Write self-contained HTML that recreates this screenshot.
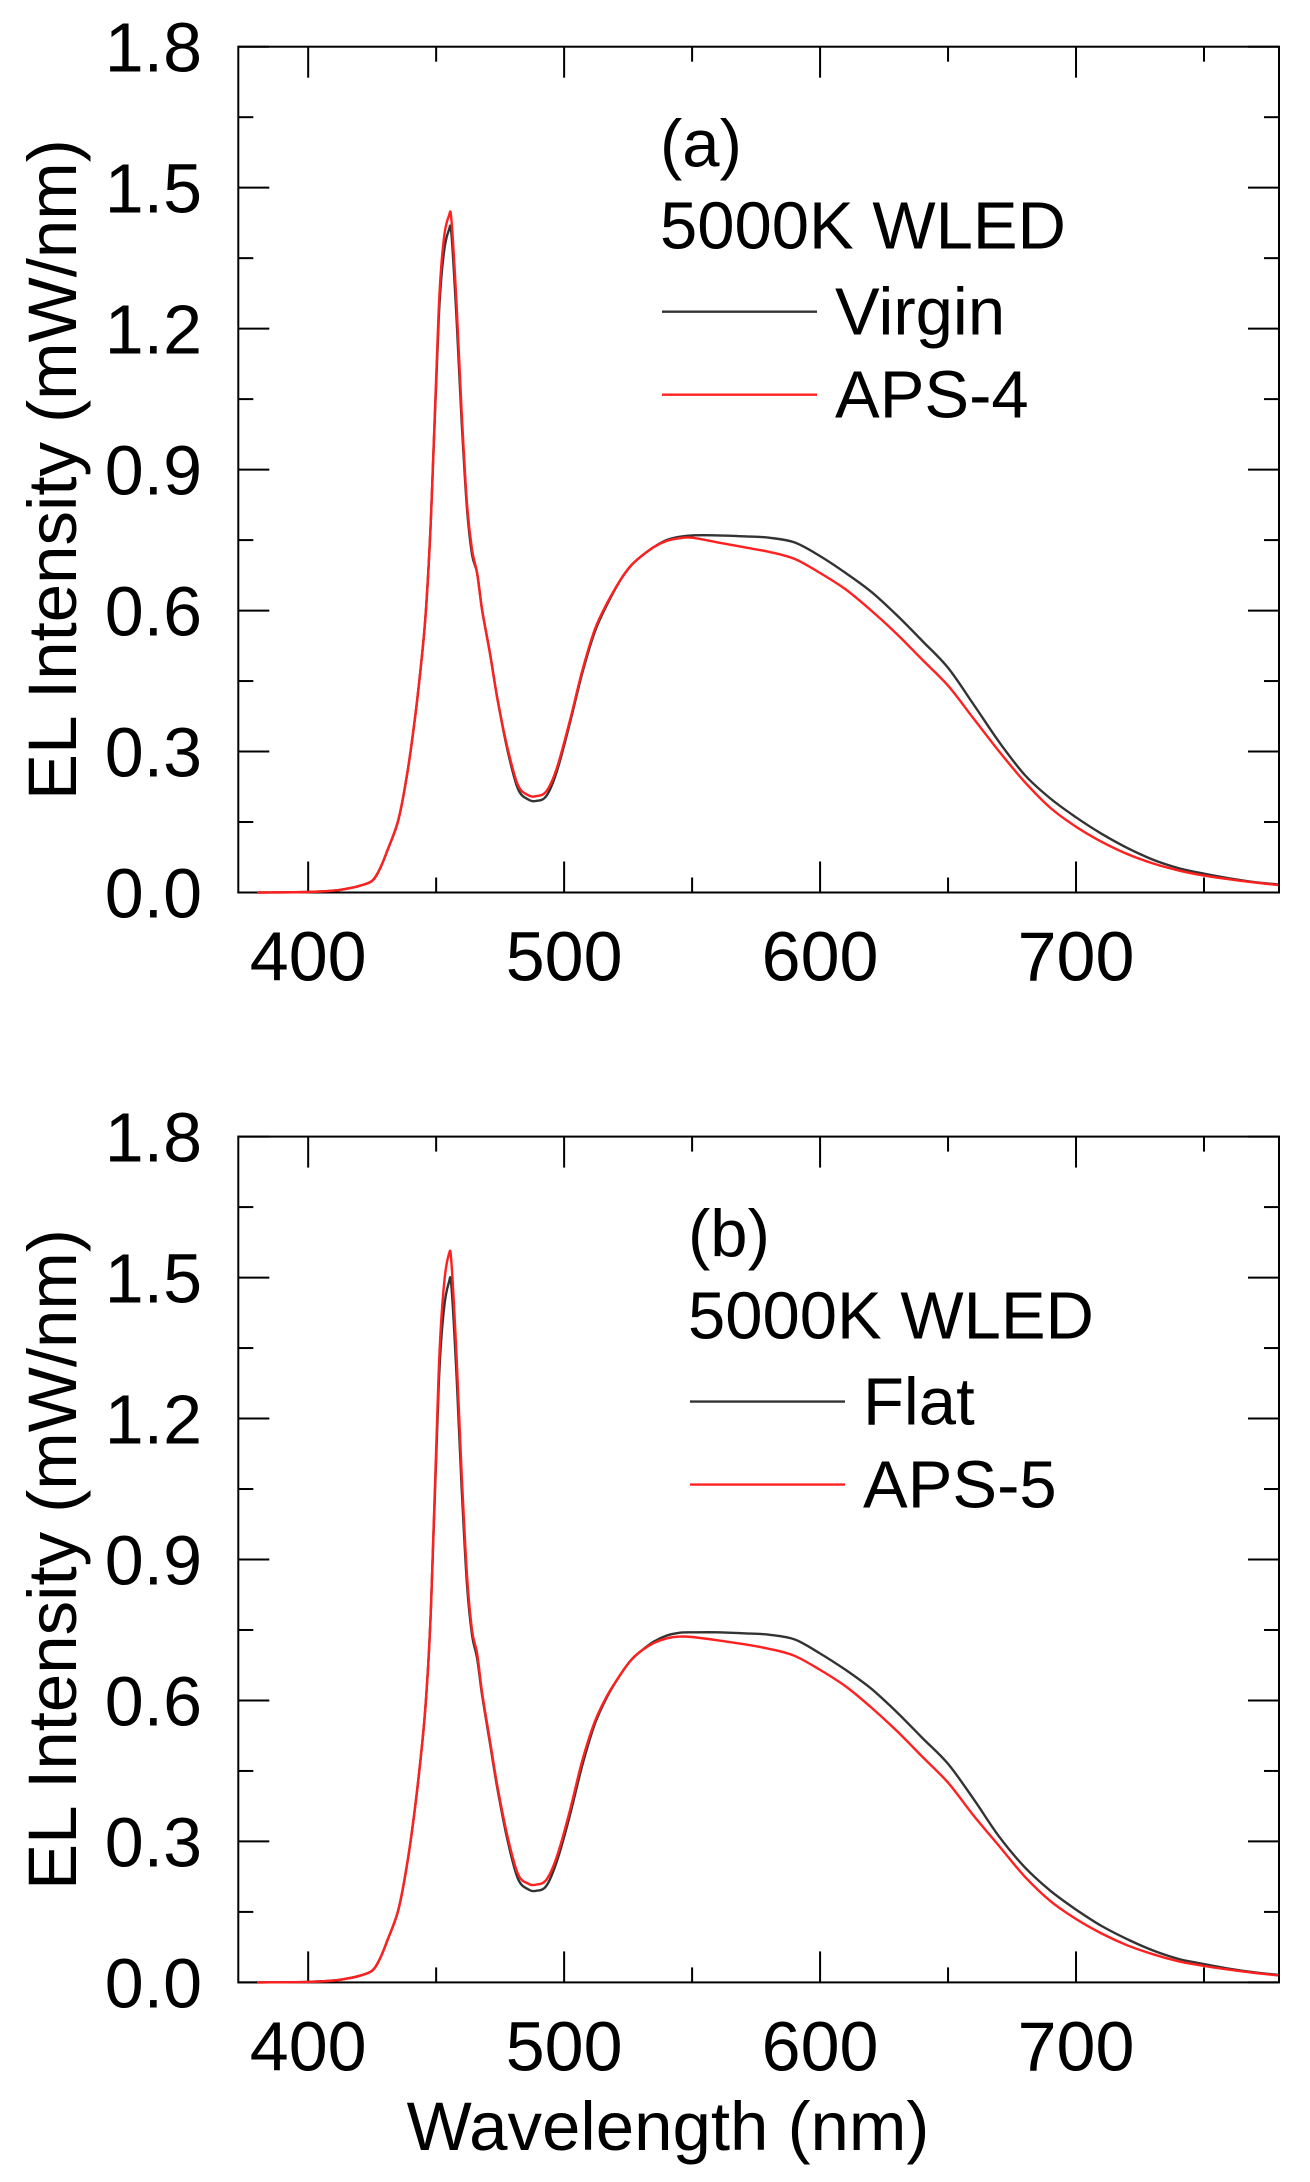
<!DOCTYPE html>
<html><head><meta charset="utf-8">
<style>
html,body{margin:0;padding:0;background:#fff;}
svg{display:block;font-family:"Liberation Sans",Arial,sans-serif;}
</style></head>
<body>
<svg id="chart" width="1310" height="2182" viewBox="0 0 1310 2182" xmlns="http://www.w3.org/2000/svg">
<g id="panelA"></g>
<g id="panelB"></g>
<text x="668" y="2150" font-size="69" text-anchor="middle" fill="#000">Wavelength (nm)</text>
</svg>
<script>
const wavelengths=[380,400,410,415,420,425,428,431,435,438,441,444,446,448,451,453,455,456,458,460,462,464,466,468,471,474,478,482,486,489,493,497,502,507,512,517,522,526,530,535,540,545,550,560,570,580,590,600,610,620,630,640,650,660,670,680,690,700,710,720,730,740,750,760,770,779];
const virginValues=[0,0.001,0.004,0.008,0.014,0.025,0.05,0.09,0.15,0.23,0.34,0.48,0.6,0.8,1.22,1.36,1.41,1.40,1.22,1.0,0.82,0.72,0.68,0.6,0.51,0.41,0.3,0.22,0.198,0.195,0.205,0.255,0.355,0.465,0.555,0.615,0.665,0.695,0.715,0.735,0.75,0.757,0.76,0.76,0.758,0.755,0.745,0.716,0.68,0.64,0.59,0.535,0.478,0.40,0.32,0.25,0.20,0.16,0.125,0.095,0.07,0.052,0.04,0.03,0.022,0.017];
const aps4Values=[0,0.001,0.004,0.008,0.014,0.025,0.05,0.09,0.15,0.23,0.34,0.48,0.6,0.8,1.24,1.39,1.44,1.43,1.25,1.02,0.83,0.73,0.68,0.6,0.51,0.41,0.305,0.228,0.207,0.205,0.215,0.262,0.36,0.47,0.56,0.618,0.665,0.695,0.715,0.735,0.748,0.754,0.755,0.745,0.735,0.725,0.71,0.68,0.645,0.60,0.55,0.495,0.44,0.37,0.30,0.235,0.18,0.14,0.108,0.082,0.062,0.047,0.036,0.028,0.021,0.016];
const flatValues=[0,0.001,0.004,0.008,0.014,0.025,0.05,0.09,0.15,0.23,0.34,0.48,0.6,0.8,1.27,1.43,1.49,1.48,1.29,1.05,0.85,0.74,0.69,0.61,0.51,0.41,0.3,0.22,0.198,0.195,0.205,0.255,0.35,0.46,0.55,0.61,0.655,0.685,0.705,0.725,0.738,0.744,0.745,0.745,0.743,0.74,0.73,0.70,0.665,0.625,0.575,0.52,0.465,0.39,0.31,0.245,0.195,0.155,0.12,0.092,0.068,0.05,0.039,0.029,0.021,0.016];
const aps5Values=[0,0.001,0.004,0.008,0.014,0.025,0.05,0.09,0.15,0.23,0.34,0.48,0.6,0.8,1.3,1.48,1.55,1.53,1.33,1.08,0.87,0.75,0.7,0.615,0.515,0.415,0.308,0.23,0.21,0.208,0.218,0.265,0.36,0.47,0.555,0.612,0.655,0.685,0.705,0.722,0.732,0.736,0.735,0.728,0.72,0.71,0.695,0.665,0.63,0.585,0.535,0.48,0.425,0.355,0.29,0.225,0.173,0.135,0.104,0.079,0.06,0.045,0.035,0.027,0.02,0.015];
const yTickLabels=["0.0","0.3","0.6","0.9","1.2","1.5","1.8"];
const xTickLabels=["400","500","600","700"];

const NS="http://www.w3.org/2000/svg";
const X0=238.3,X1=1279,XMIN=372.7,XMAX=779.3;
const PH=845.8;
function xs(w){return X0+(w-XMIN)/(XMAX-XMIN)*(X1-X0);}
function mk(tag,attrs,parent){const e=document.createElementNS(NS,tag);for(const k in attrs)e.setAttribute(k,attrs[k]);parent.appendChild(e);return e;}
function smoothPath(pts){
  let d='M'+pts[0][0].toFixed(1)+','+pts[0][1].toFixed(1);
  for(let i=0;i<pts.length-1;i++){
    const p0=pts[Math.max(0,i-1)],p1=pts[i],p2=pts[i+1],p3=pts[Math.min(pts.length-1,i+2)];
    const c1x=p1[0]+(p2[0]-p0[0])/6,c1y=p1[1]+(p2[1]-p0[1])/6;
    const c2x=p2[0]-(p3[0]-p1[0])/6,c2y=p2[1]-(p3[1]-p1[1])/6;
    d+=' C'+c1x.toFixed(1)+','+c1y.toFixed(1)+' '+c2x.toFixed(1)+','+c2y.toFixed(1)+' '+p2[0].toFixed(1)+','+p2[1].toFixed(1);
  }
  return d;
}

function panel(g,top,label,name1,vals1,name2,vals2,lx){
  const bot=top+PH;
  const ys=v=>bot-v/1.8*PH;
  const frame=mk('rect',{x:X0,y:top,width:X1-X0,height:PH,fill:'none',stroke:'#000','stroke-width':2},g);
  
  
  for(let i=0;i<=12;i++){
    const v=i*0.15,y=ys(v),L=(i%2===0)?31:15;
    const t1=mk('line',{x1:X0,x2:X0+L,y1:y,y2:y,stroke:'#000','stroke-width':2},g);
    
    
    const t2=mk('line',{x1:X1,x2:X1-L,y1:y,y2:y,stroke:'#000','stroke-width':2},g);
    
    
  }
  yTickLabels.forEach((s,i)=>{
    const t=mk('text',{x:202,y:ys(parseFloat(s))+25,'font-size':70,'text-anchor':'end',fill:'#000'},g);
    t.textContent=s;
    
    
  });
  for(let w=400;w<=750;w+=50){
    const x=xs(w),L=(w%100===0)?31:15;
    const a=mk('line',{x1:x,x2:x,y1:bot,y2:bot-L,stroke:'#000','stroke-width':2},g);
    
    
    const b=mk('line',{x1:x,x2:x,y1:top,y2:top+L,stroke:'#000','stroke-width':2},g);
    
    
  }
  xTickLabels.forEach(s=>{
    const t=mk('text',{x:xs(parseFloat(s)),y:bot+88,'font-size':70,'text-anchor':'middle',fill:'#000'},g);
    t.textContent=s;
    
    
  });
  const cy=(top+bot)/2;
  const yt=mk('text',{x:0,y:0,'font-size':69,'text-anchor':'middle',fill:'#000',transform:`translate(76,${cy}) rotate(-90)`},g);
  yt.textContent='EL Intensity (mW/nm)';
  
  
  const series=[[vals1,'#333',name1],[vals2,'#ff2020',name2]];
  series.forEach(([vals,col,nm])=>{
    const pts=wavelengths.map((w,i)=>[xs(w),ys(vals[i])]);
    const p=mk('path',{d:smoothPath(pts),fill:'none',stroke:col,'stroke-width':2.4,'stroke-linejoin':'round'},g);
    
    
  });
  const lab=mk('text',{x:lx,y:top+120,'font-size':67,fill:'#000'},g);
  lab.textContent=label;
  
  
  const ttl=mk('text',{x:lx,y:top+202,'font-size':67,fill:'#000'},g);
  ttl.textContent='5000K WLED';
  
  
  series.forEach(([vals,col,nm],k)=>{
    const ly=top+265+k*83;
    const ln=mk('line',{x1:lx+2,x2:lx+157,y1:ly,y2:ly,stroke:col,'stroke-width':2.4},g);
    
    
    const tx=mk('text',{x:lx+175,y:ly+23,'font-size':67,fill:'#000'},g);
    tx.textContent=nm;
    
    
  });
}
panel(document.getElementById('panelA'),46.7,'(a)','Virgin',virginValues,'APS-4',aps4Values,660);
panel(document.getElementById('panelB'),1136.6,'(b)','Flat',flatValues,'APS-5',aps5Values,688);
</script>
</body></html>
